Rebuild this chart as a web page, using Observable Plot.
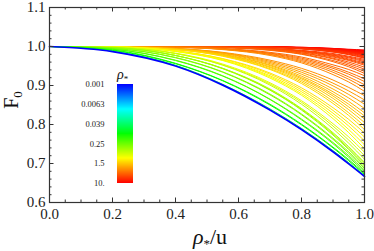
<!DOCTYPE html>
<html><head><meta charset="utf-8">
<script src="https://cdn.jsdelivr.net/npm/d3@7"></script>
<script src="https://cdn.jsdelivr.net/npm/@observablehq/plot@0.6"></script>
<style>
body{margin:0;background:#fff;}
#chart{position:relative;width:374px;height:251px;overflow:hidden;}
#chart svg{position:absolute;left:0;top:0;}
#chart svg text{font-family:"Liberation Serif","Times New Roman",serif !important;}
</style></head><body><div id="chart"></div>
<script>
// x positions (rho*/u) at which each curve was read
const xGrid = [0, 0.2, 0.4, 0.55, 0.7, 0.8, 0.9, 0.95, 1];
// rho* value of each curve
const rhoValues = [0.001, 0.05, 0.1, 0.15, 0.2, 0.25, 0.3, 0.35, 0.4, 0.45, 0.5, 0.6, 0.7, 0.8, 0.9,
  1.0, 1.1, 1.2, 1.3, 1.4, 1.5, 1.6, 1.7, 1.8, 1.9, 2.1, 2.3, 2.5, 2.7, 2.9,
  3.1, 3.3, 3.5, 3.7, 3.9, 4.1, 4.3, 4.5, 4.7, 4.9, 5.1, 5.3, 5.5, 5.7, 5.9,
  6.1, 6.3, 6.5, 6.7, 6.9, 7.1, 7.3, 7.5, 7.7, 7.9, 8.1, 8.3, 8.5, 8.7, 8.9, 9.1, 9.3, 9.5, 9.7, 9.9];
// F0 of each curve at xGrid
const F0Values = [
  [1, 0.987, 0.950, 0.901, 0.837, 0.787, 0.730, 0.699, 0.667],
  [1, 0.988, 0.952, 0.903, 0.840, 0.790, 0.733, 0.702, 0.669],
  [1, 0.990, 0.956, 0.912, 0.850, 0.799, 0.740, 0.707, 0.672],
  [1, 0.991, 0.957, 0.913, 0.852, 0.801, 0.742, 0.710, 0.675],
  [1, 0.993, 0.964, 0.924, 0.864, 0.812, 0.751, 0.716, 0.679],
  [1, 0.993, 0.965, 0.925, 0.865, 0.814, 0.754, 0.720, 0.683],
  [1, 0.995, 0.971, 0.934, 0.876, 0.825, 0.762, 0.726, 0.687],
  [1, 0.995, 0.972, 0.935, 0.878, 0.827, 0.765, 0.730, 0.691],
  [1, 0.997, 0.977, 0.943, 0.888, 0.837, 0.773, 0.736, 0.695],
  [1, 0.997, 0.977, 0.944, 0.889, 0.839, 0.776, 0.739, 0.699],
  [1, 0.997, 0.977, 0.944, 0.891, 0.841, 0.779, 0.743, 0.703],
  [1, 0.998, 0.982, 0.952, 0.901, 0.852, 0.789, 0.752, 0.711],
  [1, 0.998, 0.982, 0.953, 0.904, 0.857, 0.796, 0.760, 0.720],
  [1, 0.998, 0.983, 0.955, 0.907, 0.861, 0.802, 0.768, 0.729],
  [1, 0.999, 0.987, 0.964, 0.919, 0.875, 0.815, 0.779, 0.738],
  [1, 0.999, 0.988, 0.965, 0.922, 0.879, 0.822, 0.787, 0.748],
  [1, 0.999, 0.988, 0.966, 0.925, 0.884, 0.829, 0.796, 0.758],
  [1, 0.999, 0.989, 0.968, 0.929, 0.889, 0.836, 0.804, 0.768],
  [1, 0.999, 0.989, 0.969, 0.932, 0.894, 0.843, 0.813, 0.778],
  [1, 0.999, 0.992, 0.975, 0.941, 0.905, 0.854, 0.823, 0.787],
  [1, 0.999, 0.992, 0.976, 0.943, 0.909, 0.860, 0.830, 0.796],
  [1, 0.999, 0.993, 0.977, 0.946, 0.913, 0.867, 0.838, 0.805],
  [1, 0.999, 0.993, 0.978, 0.948, 0.917, 0.873, 0.845, 0.814],
  [1, 0.999, 0.993, 0.979, 0.951, 0.920, 0.878, 0.852, 0.822],
  [1, 0.999, 0.994, 0.980, 0.953, 0.924, 0.884, 0.859, 0.830],
  [1, 1.000, 0.994, 0.982, 0.956, 0.929, 0.891, 0.868, 0.841],
  [1, 1.000, 0.995, 0.983, 0.959, 0.934, 0.899, 0.877, 0.852],
  [1, 1.000, 0.995, 0.984, 0.962, 0.939, 0.906, 0.886, 0.863],
  [1, 1.000, 0.995, 0.985, 0.965, 0.944, 0.914, 0.895, 0.874],
  [1, 1.000, 0.998, 0.992, 0.977, 0.958, 0.928, 0.909, 0.885],
  [1, 1.000, 0.998, 0.993, 0.979, 0.961, 0.934, 0.916, 0.894],
  [1, 1.000, 0.998, 0.993, 0.980, 0.964, 0.939, 0.922, 0.902],
  [1, 1.000, 0.999, 0.994, 0.982, 0.967, 0.944, 0.929, 0.910],
  [1, 1.000, 0.999, 0.994, 0.983, 0.970, 0.948, 0.934, 0.917],
  [1, 1.000, 0.999, 0.995, 0.985, 0.973, 0.953, 0.941, 0.925],
  [1, 1.000, 1.000, 0.997, 0.990, 0.980, 0.961, 0.948, 0.931],
  [1, 1.000, 1.000, 0.998, 0.991, 0.981, 0.964, 0.952, 0.936],
  [1, 1.000, 1.000, 0.998, 0.992, 0.983, 0.968, 0.956, 0.942],
  [1, 1.000, 1.000, 0.998, 0.993, 0.984, 0.970, 0.960, 0.947],
  [1, 1.000, 1.000, 0.998, 0.993, 0.986, 0.973, 0.964, 0.952],
  [1, 1.000, 1.000, 0.998, 0.994, 0.987, 0.975, 0.966, 0.955],
  [1, 1.000, 1.000, 0.998, 0.994, 0.988, 0.977, 0.968, 0.958],
  [1, 1.000, 1.000, 0.999, 0.995, 0.989, 0.978, 0.971, 0.961],
  [1, 1.000, 1.000, 0.999, 0.995, 0.989, 0.980, 0.973, 0.964],
  [1, 1.000, 1.000, 0.999, 0.995, 0.990, 0.982, 0.975, 0.967],
  [1, 1.000, 1.000, 1.000, 0.998, 0.994, 0.986, 0.979, 0.970],
  [1, 1.000, 1.000, 1.000, 0.998, 0.994, 0.986, 0.980, 0.971],
  [1, 1.000, 1.000, 1.000, 0.998, 0.994, 0.987, 0.981, 0.973],
  [1, 1.000, 1.000, 1.000, 0.998, 0.995, 0.988, 0.983, 0.975],
  [1, 1.000, 1.000, 1.000, 0.998, 0.995, 0.989, 0.983, 0.976],
  [1, 1.000, 1.000, 1.000, 0.998, 0.995, 0.990, 0.985, 0.978],
  [1, 1.000, 1.000, 1.000, 0.998, 0.996, 0.990, 0.985, 0.979],
  [1, 1.000, 1.000, 1.000, 0.998, 0.996, 0.990, 0.986, 0.980],
  [1, 1.000, 1.000, 1.000, 0.998, 0.996, 0.991, 0.987, 0.981],
  [1, 1.000, 1.000, 1.000, 0.999, 0.996, 0.991, 0.987, 0.982],
  [1, 1.000, 1.000, 1.000, 0.999, 0.996, 0.992, 0.988, 0.983],
  [1, 1.000, 1.000, 1.000, 0.999, 0.997, 0.992, 0.989, 0.984],
  [1, 1.000, 1.000, 1.000, 0.999, 0.997, 0.993, 0.989, 0.985],
  [1, 1.000, 1.000, 1.000, 0.999, 0.997, 0.993, 0.990, 0.986],
  [1, 1.000, 1.000, 1.000, 0.999, 0.997, 0.993, 0.990, 0.986],
  [1, 1.000, 1.000, 1.000, 0.999, 0.997, 0.994, 0.991, 0.987],
  [1, 1.000, 1.000, 1.000, 0.999, 0.997, 0.994, 0.991, 0.988],
  [1, 1.000, 1.000, 1.000, 0.999, 0.997, 0.994, 0.992, 0.989],
  [1, 1.000, 1.000, 1.000, 0.999, 0.998, 0.995, 0.992, 0.990],
  [1, 1.000, 1.000, 1.000, 0.999, 0.998, 0.995, 0.993, 0.991]
];
const xTicks = [0, 0.2, 0.4, 0.6, 0.8, 1.0];
const yTicks = [0.6, 0.7, 0.8, 0.9, 1.0, 1.1];
const legendTicks = [0.001, 0.0063, 0.039, 0.25, 1.5, 10];
const legendLabels = ["0.001", "0.0063", "0.039", "0.25", "1.5", "10."];

const W = 374, H = 251;
const mL = 49, mR = 10, mT = 7, mB = 49;
const pxX = 1 / (W - mL - mR), pxY = 0.5 / (H - mT - mB);
const serif = "Liberation Serif, Times New Roman, serif";
const ink = "#333";

const colorOpts = {type: "log", domain: [0.001, 10], interpolate: t => d3.hsl(240 * (1 - t), 1, 0.5).toString()};

const rows = rhoValues.flatMap((rho, i) => xGrid.map((x, j) => ({x, F: F0Values[i][j], rho, i})));
const others = rows.filter(d => d.i > 0).sort((a, b) => (b.rho - a.rho) || (a.x - b.x));
const lowest = rows.filter(d => d.i === 0);

const xMinor = d3.range(0, 1.0001, 0.05);
const yMinor = d3.range(0.6, 1.1001, 0.02);
const majL = 4.5, minL = 2.5;

const main = Plot.plot({
  width: W, height: H,
  marginLeft: mL, marginRight: mR, marginTop: mT, marginBottom: mB,
  x: {domain: [0, 1], label: null},
  y: {domain: [0.6, 1.1], label: null},
  color: colorOpts,
  style: {fontFamily: serif, fontSize: "15px", background: "transparent", overflow: "visible", color: "#222"},
  marks: [
    Plot.line(others, {x: "x", y: "F", z: "rho", stroke: "rho", strokeWidth: 1, curve: "monotone-x"}),
    Plot.line(lowest, {x: "x", y: "F", stroke: "rho", strokeWidth: 1.7, curve: "monotone-x"}),
    Plot.ruleX(xMinor, {y1: 0.6, y2: 0.6 + minL * pxY, stroke: ink}),
    Plot.ruleX(xMinor, {y1: 1.1, y2: 1.1 - minL * pxY, stroke: ink}),
    Plot.ruleX(xTicks, {y1: 0.6, y2: 0.6 + majL * pxY, stroke: ink}),
    Plot.ruleX(xTicks, {y1: 1.1, y2: 1.1 - majL * pxY, stroke: ink}),
    Plot.ruleY(yMinor, {x1: 0, x2: minL * pxX, stroke: ink}),
    Plot.ruleY(yMinor, {x1: 1, x2: 1 - minL * pxX, stroke: ink}),
    Plot.ruleY(yTicks, {x1: 0, x2: majL * pxX, stroke: ink}),
    Plot.ruleY(yTicks, {x1: 1, x2: 1 - majL * pxX, stroke: ink}),
    Plot.frame({stroke: ink, strokeWidth: 1.2}),
    Plot.axisX({ticks: xTicks, tickFormat: d3.format(".1f"), tickSize: 0, tickPadding: 6, label: null,
      fontFamily: serif, fontSize: 15, fill: "#222"}),
    Plot.axisY({ticks: yTicks, tickFormat: d3.format(".1f"), tickSize: 0, tickPadding: 4, label: null,
      fontFamily: serif, fontSize: 15, fill: "#222"})
  ]
});

const stops = d3.range(100).map(k => {
  const a = Math.pow(10, -3 + k * 0.04), b = Math.pow(10, -3 + (k + 1) * 0.04);
  return {a, b, m: Math.sqrt(a * b)};
});
const legendText = legendTicks.map((v, i) => ({v, label: legendLabels[i]}));
const legend = Plot.plot({
  width: W, height: H,
  marginLeft: 117, marginRight: W - 133, marginTop: 84, marginBottom: H - 183,
  x: {domain: [0, 1], axis: null},
  y: {type: "log", domain: [0.001, 10], reverse: true, axis: null},
  color: colorOpts,
  style: {fontFamily: serif, fontSize: "8.5px", background: "transparent", overflow: "visible", color: "#222"},
  marks: [
    Plot.rect(stops, {x1: 0, x2: 1, y1: "a", y2: "b", fill: "m", shapeRendering: "crispEdges"}),
    Plot.text(legendText, {x: 0, y: "v", text: "label", textAnchor: "end", dx: -13,
      fontFamily: serif, fontSize: 8.5, fill: "#222"})
  ]
});

const host = document.getElementById("chart");
host.appendChild(main);
host.appendChild(legend);

// axis titles
const sm = d3.select(main);
const xt = sm.append("text").attr("x", 210).attr("y", 244).attr("text-anchor", "middle")
  .attr("font-size", 22).attr("fill", "#111");
xt.append("tspan").attr("font-style", "italic").text("ρ");
xt.append("tspan").attr("font-size", 13).attr("dy", 4).text("*");
xt.append("tspan").attr("dy", -4).text("/u");

const yt = sm.append("text").attr("transform", "translate(18,100) rotate(-90)").attr("text-anchor", "middle")
  .attr("font-size", 20).attr("fill", "#111");
yt.append("tspan").text("F");
yt.append("tspan").attr("font-size", 13).attr("dy", 4).text("0");

const sl = d3.select(legend);
const lt = sl.append("text").attr("x", 117).attr("y", 79).attr("text-anchor", "start")
  .attr("font-size", 14).attr("fill", "#111");
lt.append("tspan").attr("font-style", "italic").text("ρ");
lt.append("tspan").attr("font-size", 9).attr("dy", 3).text("*");

d3.selectAll("#chart svg text").style("font-family", serif);
</script></body></html>
